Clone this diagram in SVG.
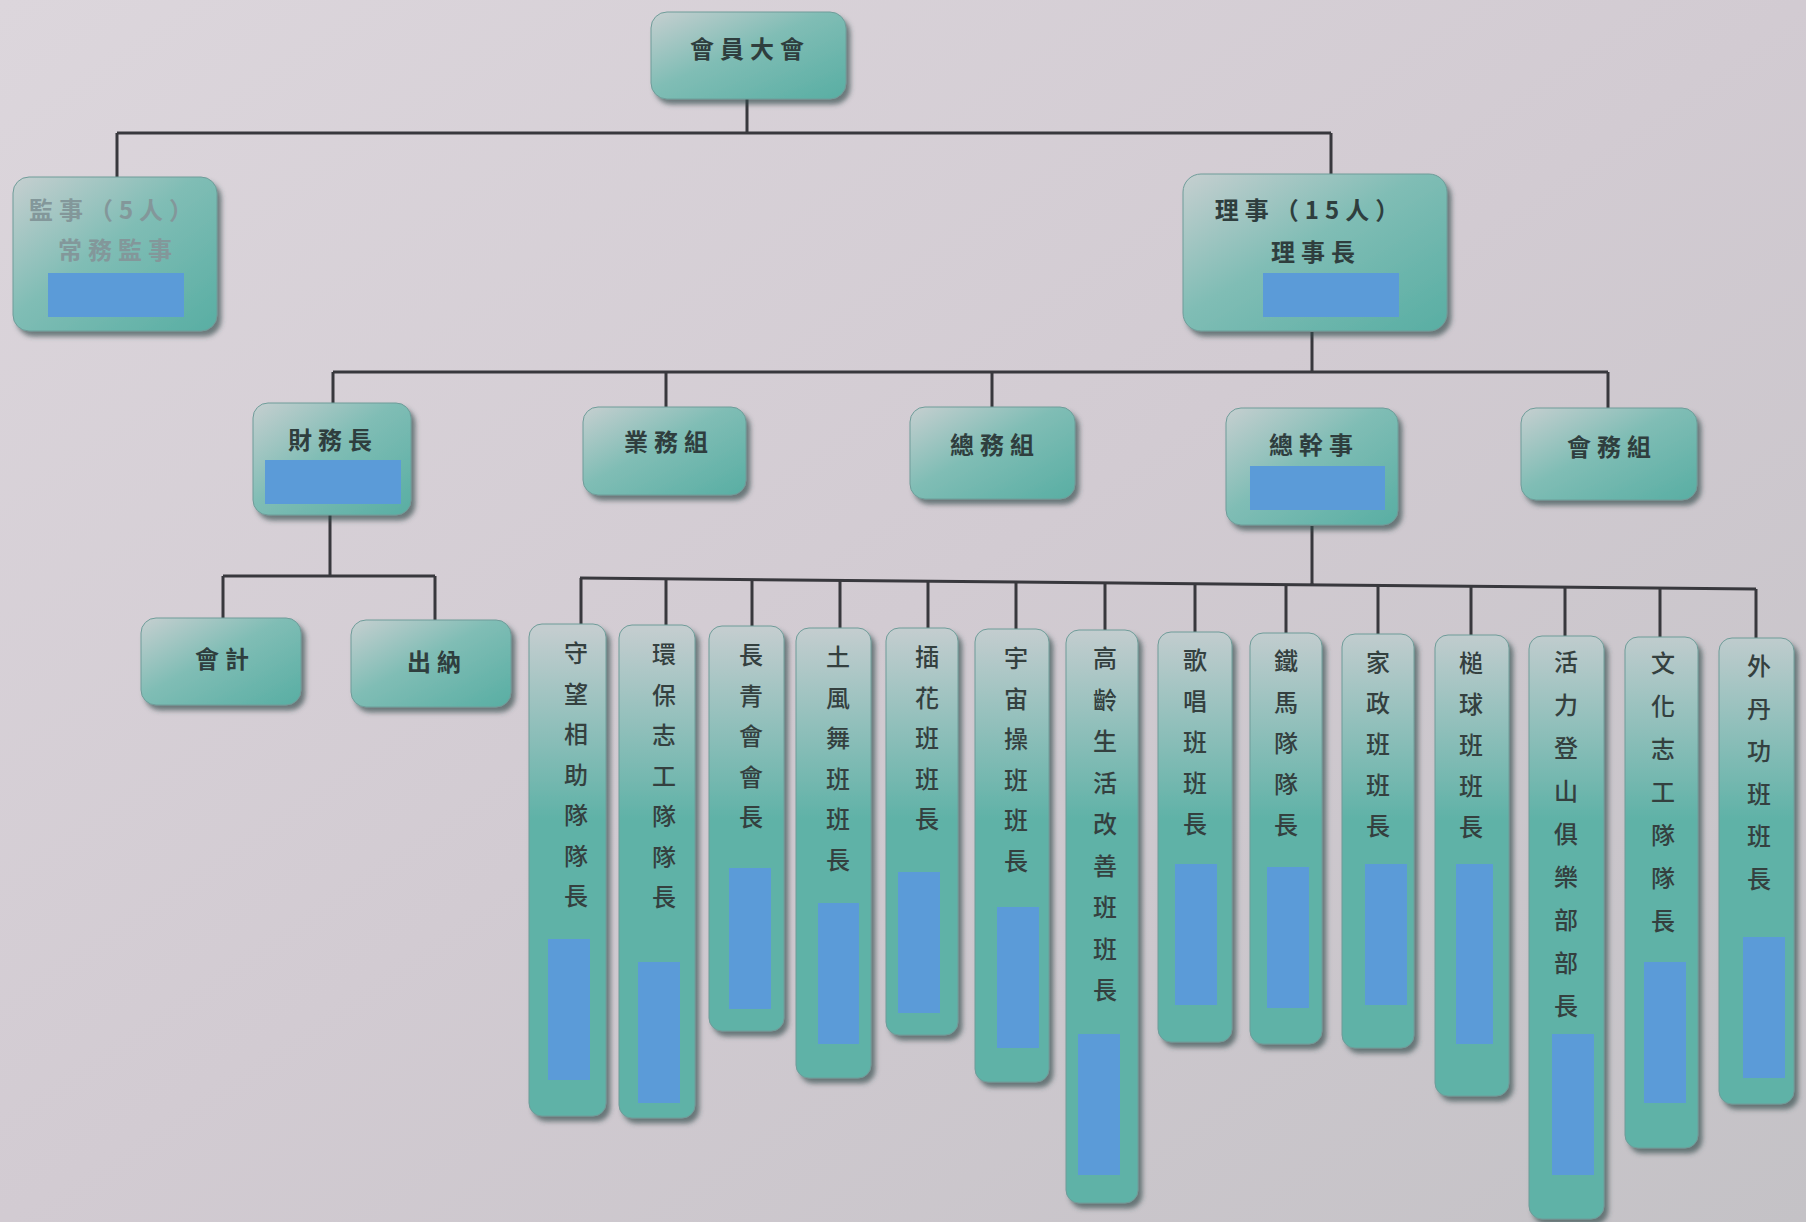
<svg xmlns="http://www.w3.org/2000/svg" width="1806" height="1222" viewBox="0 0 1806 1222">
<defs>
<linearGradient id="bg" x1="0" y1="0" x2="1" y2="1">
<stop offset="0" stop-color="#dcd6dc"/>
<stop offset="0.5" stop-color="#d2cbd2"/>
<stop offset="1" stop-color="#c4c2c6"/>
</linearGradient>
<linearGradient id="box" x1="0" y1="0" x2="1" y2="1">
<stop offset="0" stop-color="#c6cfd0"/>
<stop offset="0.45" stop-color="#80bdb5"/>
<stop offset="1" stop-color="#58aea3"/>
</linearGradient>
<linearGradient id="tall" gradientUnits="userSpaceOnUse" x1="0" y1="630" x2="0" y2="820">
<stop offset="0" stop-color="#c3cdcf"/>
<stop offset="1" stop-color="#5fb2a7"/>
</linearGradient>
<filter id="sh" x="-20%" y="-20%" width="140%" height="140%">
<feDropShadow dx="4" dy="5" stdDeviation="2.5" flood-color="#2f4a4a" flood-opacity="0.65"/>
</filter>
</defs>
<style>
.bx{fill:url(#box);stroke:#6f9c99;stroke-width:1;filter:url(#sh)}
.tl{fill:url(#tall);stroke:#6f9c99;stroke-width:1;filter:url(#sh)}
.rd{fill:#5b9bd8}
.t{font-family:"Noto Sans CJK TC","Noto Sans CJK SC",sans-serif;font-size:24px;font-weight:700;fill:#2f3e3e;text-anchor:middle;dominant-baseline:central;letter-spacing:6px}
.f{fill:#83979a}
.v{font-family:"Noto Sans CJK TC","Noto Sans CJK SC",sans-serif;font-size:24px;font-weight:500;fill:#34403f;text-anchor:middle;dominant-baseline:central}
.c{stroke:#38383d;stroke-width:3;fill:none}
</style>
<rect x="0" y="0" width="1806" height="1222" fill="url(#bg)"/>

<g id="connectors">
<path class="c" d="M747 99V133M117 133H1331M117 133V178M1331 133V175"/>
<path class="c" d="M1312 332V372M333 372H1608M333 372V404M666 372V408M992 372V408M1608 372V409"/>
<path class="c" d="M330 515V576M223 576H435M223 576V619M435 576V621"/>
<path class="c" d="M1312 526V585M580 578L1756 589"/>
<path class="c" d="M581 578V625M666 579V626M752 580V627M840 580V629M928 581V629M1016 582V630M1105 583V631M1195 584V633M1286 585V634M1378 585V635M1471 586V636M1565 587V637M1660 588V638M1756 589V639"/>
</g>

<g id="n-member"><rect class="bx" x="651" y="12" width="195" height="87" rx="16"/><text class="t" x="750" y="47">會員大會</text></g>

<g id="n-supervisor"><rect class="bx" x="13" y="177" width="204" height="154" rx="16"/><text class="t f" x="114" y="208">監事（5人）</text><text class="t f" x="118" y="248">常務監事</text><rect class="rd" x="48" y="273" width="136" height="44"/></g>

<g id="n-director"><rect class="bx" x="1183" y="174" width="264" height="157" rx="18"/><text class="t" x="1310" y="208">理事（15人）</text><text class="t" x="1316" y="250">理事長</text><rect class="rd" x="1263" y="273" width="136" height="44"/></g>

<g id="n-finance"><rect class="bx" x="253" y="403" width="158" height="112" rx="15"/><text class="t" x="333" y="438">財務長</text><rect class="rd" x="265" y="460" width="136" height="44"/></g>

<g id="n-business"><rect class="bx" x="583" y="407" width="163" height="88" rx="15"/><text class="t" x="669" y="440">業務組</text></g>

<g id="n-general"><rect class="bx" x="910" y="407" width="165" height="92" rx="15"/><text class="t" x="995" y="443">總務組</text></g>

<g id="n-secretary"><rect class="bx" x="1226" y="408" width="172" height="117" rx="15"/><text class="t" x="1314" y="443">總幹事</text><rect class="rd" x="1250" y="466" width="135" height="44"/></g>

<g id="n-affairs"><rect class="bx" x="1521" y="408" width="176" height="92" rx="15"/><text class="t" x="1612" y="445">會務組</text></g>

<g id="n-accounting"><rect class="bx" x="141" y="618" width="160" height="87" rx="15"/><text class="t" x="225" y="657">會計</text></g>

<g id="n-cashier"><rect class="bx" x="351" y="620" width="160" height="87" rx="15"/><text class="t" x="437" y="660">出納</text></g>

<g id="v1"><rect class="tl" x="529" y="624" width="77" height="492" rx="13"/><text class="v"><tspan x="576" y="651">守</tspan><tspan x="576" y="691.5">望</tspan><tspan x="576" y="732">相</tspan><tspan x="576" y="772.5">助</tspan><tspan x="576" y="813">隊</tspan><tspan x="576" y="853.5">隊</tspan><tspan x="576" y="894">長</tspan></text><rect class="rd" x="548" y="939" width="42" height="141"/></g>

<g id="v2"><rect class="tl" x="619" y="625" width="76" height="493" rx="13"/><text class="v"><tspan x="664" y="652">環</tspan><tspan x="664" y="692.5">保</tspan><tspan x="664" y="733">志</tspan><tspan x="664" y="773.5">工</tspan><tspan x="664" y="814">隊</tspan><tspan x="664" y="854.5">隊</tspan><tspan x="664" y="895">長</tspan></text><rect class="rd" x="638" y="962" width="42" height="141"/></g>

<g id="v3"><rect class="tl" x="709" y="626" width="75" height="405" rx="13"/><text class="v"><tspan x="751" y="653">長</tspan><tspan x="751" y="693.5">青</tspan><tspan x="751" y="734">會</tspan><tspan x="751" y="774.5">會</tspan><tspan x="751" y="815">長</tspan></text><rect class="rd" x="729" y="868" width="42" height="141"/></g>

<g id="v4"><rect class="tl" x="796" y="628" width="75" height="450" rx="13"/><text class="v"><tspan x="838" y="655">土</tspan><tspan x="838" y="695.5">風</tspan><tspan x="838" y="736">舞</tspan><tspan x="838" y="776.5">班</tspan><tspan x="838" y="817">班</tspan><tspan x="838" y="857.5">長</tspan></text><rect class="rd" x="818" y="903" width="41" height="141"/></g>

<g id="v5"><rect class="tl" x="886" y="628" width="72" height="407" rx="13"/><text class="v"><tspan x="927" y="655">插</tspan><tspan x="927" y="695.5">花</tspan><tspan x="927" y="736">班</tspan><tspan x="927" y="776.5">班</tspan><tspan x="927" y="817">長</tspan></text><rect class="rd" x="898" y="872" width="42" height="141"/></g>

<g id="v6"><rect class="tl" x="975" y="629" width="74" height="453" rx="13"/><text class="v"><tspan x="1016" y="656">宇</tspan><tspan x="1016" y="696.5">宙</tspan><tspan x="1016" y="737">操</tspan><tspan x="1016" y="777.5">班</tspan><tspan x="1016" y="818">班</tspan><tspan x="1016" y="858.5">長</tspan></text><rect class="rd" x="997" y="907" width="42" height="141"/></g>

<g id="v7"><rect class="tl" x="1066" y="630" width="72" height="573" rx="13"/><text class="v"><tspan x="1105" y="656">高</tspan><tspan x="1105" y="697.5">齡</tspan><tspan x="1105" y="739">生</tspan><tspan x="1105" y="780.5">活</tspan><tspan x="1105" y="822">改</tspan><tspan x="1105" y="863.5">善</tspan><tspan x="1105" y="905">班</tspan><tspan x="1105" y="946.5">班</tspan><tspan x="1105" y="988">長</tspan></text><rect class="rd" x="1078" y="1034" width="42" height="141"/></g>

<g id="v8"><rect class="tl" x="1158" y="632" width="74" height="410" rx="13"/><text class="v"><tspan x="1195" y="658">歌</tspan><tspan x="1195" y="699">唱</tspan><tspan x="1195" y="740">班</tspan><tspan x="1195" y="781">班</tspan><tspan x="1195" y="822">長</tspan></text><rect class="rd" x="1175" y="864" width="42" height="141"/></g>

<g id="v9"><rect class="tl" x="1250" y="633" width="72" height="411" rx="13"/><text class="v"><tspan x="1286" y="659">鐵</tspan><tspan x="1286" y="700">馬</tspan><tspan x="1286" y="741">隊</tspan><tspan x="1286" y="782">隊</tspan><tspan x="1286" y="823">長</tspan></text><rect class="rd" x="1267" y="867" width="42" height="141"/></g>

<g id="v10"><rect class="tl" x="1342" y="634" width="72" height="414" rx="13"/><text class="v"><tspan x="1378" y="660">家</tspan><tspan x="1378" y="701">政</tspan><tspan x="1378" y="742">班</tspan><tspan x="1378" y="783">班</tspan><tspan x="1378" y="824">長</tspan></text><rect class="rd" x="1365" y="864" width="42" height="141"/></g>

<g id="v11"><rect class="tl" x="1435" y="635" width="74" height="461" rx="13"/><text class="v"><tspan x="1471" y="661">槌</tspan><tspan x="1471" y="702">球</tspan><tspan x="1471" y="743">班</tspan><tspan x="1471" y="784">班</tspan><tspan x="1471" y="825">長</tspan></text><rect class="rd" x="1456" y="864" width="37" height="180"/></g>

<g id="v12"><rect class="tl" x="1529" y="636" width="75" height="583" rx="13"/><text class="v"><tspan x="1566" y="660">活</tspan><tspan x="1566" y="703">力</tspan><tspan x="1566" y="746">登</tspan><tspan x="1566" y="789">山</tspan><tspan x="1566" y="832">俱</tspan><tspan x="1566" y="875">樂</tspan><tspan x="1566" y="918">部</tspan><tspan x="1566" y="961">部</tspan><tspan x="1566" y="1004">長</tspan></text><rect class="rd" x="1552" y="1034" width="42" height="141"/></g>

<g id="v13"><rect class="tl" x="1625" y="637" width="73" height="511" rx="13"/><text class="v"><tspan x="1663" y="661">文</tspan><tspan x="1663" y="704">化</tspan><tspan x="1663" y="747">志</tspan><tspan x="1663" y="790">工</tspan><tspan x="1663" y="833">隊</tspan><tspan x="1663" y="876">隊</tspan><tspan x="1663" y="919">長</tspan></text><rect class="rd" x="1644" y="962" width="42" height="141"/></g>

<g id="v14"><rect class="tl" x="1719" y="638" width="75" height="466" rx="13"/><text class="v"><tspan x="1759" y="664">外</tspan><tspan x="1759" y="706.5">丹</tspan><tspan x="1759" y="749">功</tspan><tspan x="1759" y="791.5">班</tspan><tspan x="1759" y="834">班</tspan><tspan x="1759" y="876.5">長</tspan></text><rect class="rd" x="1743" y="937" width="42" height="141"/></g>
</svg>
